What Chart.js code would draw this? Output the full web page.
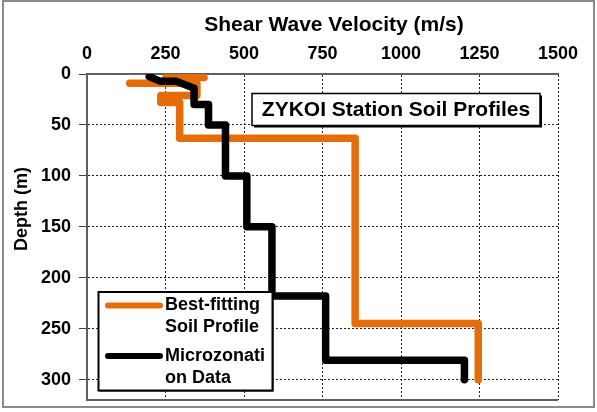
<!DOCTYPE html>
<html>
<head>
<meta charset="utf-8">
<script src="https://cdn.jsdelivr.net/npm/chart.js@4.4.1/dist/chart.umd.min.js"></script>
<style>
  html, body { margin: 0; padding: 0; background: #fff; overflow: hidden; }
  canvas { display: block; }
</style>
</head>
<body>
<canvas id="vsChart" width="597" height="412"></canvas>
<script>
// Vs (m/s) against depth (m), both profiles are step curves
var bestVs    = [373, 251, 251, 136, 350, 350, 235, 235, 295, 295, 854, 854, 1246, 1246];
var bestDepth = [3.5, 3.5, 9, 9, 9, 21, 21, 28, 28, 63, 63, 245, 245, 300];

var microVs    = [198, 232, 283, 341, 341, 387, 387, 441, 441, 509, 509, 589, 589, 760, 760, 1202, 1202];
var microDepth = [2.6, 7, 7, 14, 30, 30, 50, 50, 100, 100, 150, 150, 218, 218, 281, 281, 300];

var seriesNames  = ["Best-fitting Soil Profile", "Microzonation Data"];
var legendLines  = [["Best-fitting", "Soil Profile"], ["Microzonati", "on Data"]];
var seriesColors = ["#E46C0A", "#000000"];

var xTicks = [0, 250, 500, 750, 1000, 1250, 1500];
var yTicks = [0, 50, 100, 150, 200, 250, 300];

var boxTitle = "ZYKOI Station Soil Profiles";
var xTitle = "Shear Wave Velocity (m/s)";
var yTitle = "Depth (m)";

var FONT = "'Liberation Sans', Arial, sans-serif";

function toPoints(xs, ys) {
  return xs.map(function (x, i) { return { x: x, y: ys[i] }; });
}

function fixedTicks(list) {
  return function (scale) {
    scale.ticks = list.map(function (v) { return { value: v }; });
  };
}

// fixed axis box sizes, no extra label overhang padding
function fitBox(w, h) {
  return function (s) {
    if (w !== null) s.width = w;
    if (h !== null) s.height = h;
    s.paddingTop = 0;
    s.paddingBottom = 0;
    s.paddingLeft = 0;
    s.paddingRight = 0;
  };
}

var extras = {
  id: 'extras',
  beforeDraw: function (chart) {
    var ctx = chart.ctx;
    ctx.save();
    ctx.fillStyle = '#fff';
    ctx.fillRect(0, 0, chart.width, chart.height);
    ctx.restore();
  },
  afterDraw: function (chart) {
    var ctx = chart.ctx, a = chart.chartArea;
    ctx.save();

    // bottom edge of plot area
    ctx.strokeStyle = '#606060';
    ctx.lineWidth = 2;
    ctx.beginPath();
    ctx.moveTo(a.left - 1, a.bottom);
    ctx.lineTo(a.right, a.bottom);
    ctx.stroke();

    // outer frame
    ctx.strokeStyle = '#8a8a8a';
    ctx.lineWidth = 2;
    ctx.strokeRect(3, 1, chart.width - 6, chart.height - 6);

    // axis titles
    ctx.fillStyle = '#000';
    ctx.textAlign = 'center';
    ctx.textBaseline = 'middle';
    ctx.font = 'bold 21px ' + FONT;
    ctx.fillText(xTitle, 334, 25);
    ctx.save();
    ctx.translate(22, 209);
    ctx.rotate(-Math.PI / 2);
    ctx.font = 'bold 18px ' + FONT;
    ctx.fillText(yTitle, 0, 0);
    ctx.restore();

    // station label box
    ctx.fillStyle = '#000';
    ctx.fillRect(254, 95.5, 288, 32);
    ctx.fillStyle = '#fff';
    ctx.fillRect(252, 93.5, 288, 32);
    ctx.strokeStyle = '#000';
    ctx.lineWidth = 1.5;
    ctx.strokeRect(252, 93.5, 288, 32);
    ctx.fillStyle = '#000';
    ctx.font = 'bold 21px ' + FONT;
    ctx.fillText(boxTitle, 396, 110.5);

    // legend
    var lx = 98.5, ly = 292, lw = 174, lh = 98.5;
    ctx.fillStyle = '#000';
    ctx.fillRect(lx + 1, ly + 1, lw, lh);
    ctx.fillStyle = '#fff';
    ctx.fillRect(lx, ly, lw, lh);
    ctx.lineWidth = 2;
    ctx.strokeRect(lx, ly, lw, lh);

    var rows = [305.5, 356];
    ctx.font = 'bold 18px ' + FONT;
    ctx.textAlign = 'left';
    ctx.lineCap = 'round';
    chart.data.datasets.forEach(function (ds, i) {
      var y = rows[i];
      ctx.strokeStyle = ds.borderColor;
      ctx.lineWidth = 6;
      ctx.beginPath();
      ctx.moveTo(108, y);
      ctx.lineTo(160, y);
      ctx.stroke();
      ctx.fillStyle = '#000';
      legendLines[i].forEach(function (t, k) {
        ctx.fillText(t, 165, y + k * 22);
      });
    });

    ctx.restore();
  }
};

new Chart(document.getElementById('vsChart'), {
  type: 'scatter',
  data: {
    datasets: [{
      label: seriesNames[0],
      data: toPoints(bestVs, bestDepth),
      borderColor: seriesColors[0],
      backgroundColor: seriesColors[0],
      order: 1
    }, {
      label: seriesNames[1],
      data: toPoints(microVs, microDepth),
      borderColor: seriesColors[1],
      backgroundColor: seriesColors[1],
      order: 0
    }]
  },
  options: {
    responsive: false,
    animation: false,
    devicePixelRatio: 1,
    layout: { padding: { left: 0, top: 0, right: 39, bottom: 12 } },
    elements: {
      point: { radius: 0, hoverRadius: 0 },
      line: { borderWidth: 7.5, borderJoinStyle: 'round', borderCapStyle: 'round', tension: 0 }
    },
    datasets: { scatter: { showLine: true } },
    plugins: {
      legend: { display: false },
      tooltip: { enabled: false }
    },
    scales: {
      x: {
        type: 'linear',
        position: 'top',
        min: 0,
        max: 1500,
        afterBuildTicks: fixedTicks(xTicks),
        afterFit: fitBox(null, 74),
        grid: { color: '#222', lineWidth: 1, drawTicks: false },
        border: { display: true, color: '#606060', width: 2, dash: [2, 2] },
        ticks: {
          padding: 9,
          color: '#000',
          font: { family: FONT, size: 18, weight: 'bold' },
          maxRotation: 0,
          callback: function (v) { return String(v); }
        }
      },
      y: {
        type: 'linear',
        position: 'left',
        reverse: true,
        min: 0,
        max: 320,
        afterBuildTicks: fixedTicks(yTicks),
        afterFit: fitBox(87, null),
        grid: { color: '#222', lineWidth: 1, tickLength: 8, tickColor: '#404040', tickWidth: 1 },
        border: { display: true, color: '#606060', width: 2, dash: [2, 2] },
        ticks: {
          padding: 8,
          color: '#000',
          font: { family: FONT, size: 18, weight: 'bold' },
          callback: function (v) { return String(v); }
        }
      }
    }
  },
  plugins: [extras]
});
</script>
</body>
</html>
